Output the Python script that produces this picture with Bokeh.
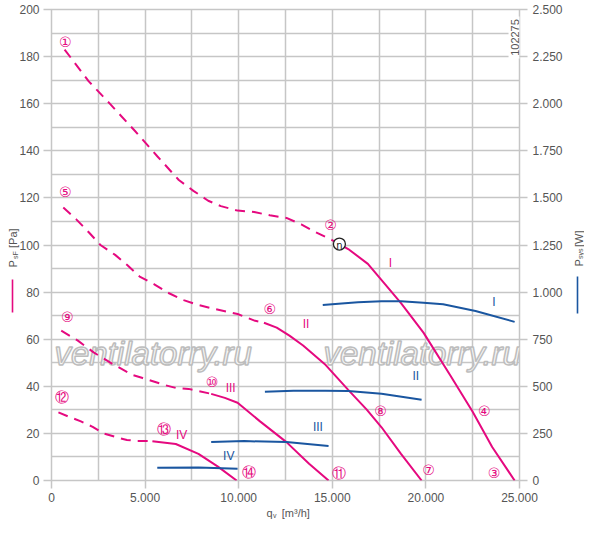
import math
from bokeh.plotting import figure
from bokeh.models import Range1d, LinearAxis, FixedTicker, Label
from bokeh.embed import file_html
from bokeh.resources import INLINE
from bokeh.core.properties import value

# ---------------- data ----------------
x_ticks = [0, 5000, 10000, 15000, 20000, 25000]
x_minor = [2500, 7500, 12500, 17500, 22500]
x_tick_labels = ["0", "5.000", "10.000", "15.000", "20.000", "25.000"]
y_ticks = [0, 20, 40, 60, 80, 100, 120, 140, 160, 180, 200]
y_minor = [10, 30, 50, 70, 90, 110, 130, 150, 170, 190]
w_ticks = [0, 250, 500, 750, 1000, 1250, 1500, 1750, 2000, 2250, 2500]
w_tick_labels = ["0", "250", "500", "750", "1.000", "1.250", "1.500",
                 "1.750", "2.000", "2.250", "2.500"]

# pressure curves (q in m3/h, p in Pa) - dashed part, then solid part
I_dash_q = [700, 1990, 3140, 4450, 5650, 6800, 7580, 8370, 9050, 9940,
            10830, 11660, 12550, 13340, 14120, 15010, 15380]
I_dash_p = [183, 169.5, 159.8, 148.5, 137.7, 127.6, 123, 118.8, 116.5, 114.6,
            114, 112.6, 111.5, 108.8, 105.4, 102, 100.4]
I_q = [15380, 15850, 16900, 17780, 18670, 19870, 21290, 22490, 23540, 24740]
I_p = [100.4, 98.3, 92, 83.7, 75.3, 62.8, 44.8, 29.3, 14.2, 0]

II_dash_q = [630, 1310, 1990, 2615, 3400, 4030, 4710, 5490, 6280, 7060,
             7850, 8740, 9940, 10880, 11350]
II_dash_p = [115.9, 111, 105.4, 100, 95.8, 91.6, 86.6, 83.3, 79.5, 76.6,
             74.5, 72.8, 70.7, 67.8, 67]
II_q = [11350, 12030, 12710, 13440, 14650, 15850, 16840, 17630, 18670, 19770]
II_p = [67, 64.9, 61.5, 57.3, 49, 38.5, 30.1, 22.6, 11.3, 0]

III_dash_q = [520, 1410, 2250, 3300, 4340, 4870, 6020, 6640, 7320, 7850, 8530]
III_dash_p = [63.6, 59.4, 54.4, 49.3, 44.8, 43.5, 40.6, 39.3, 38.9, 38.0, 36.8]
III_q = [8530, 9260, 9940, 11140, 12550, 13760, 14800]
III_p = [36.8, 35.1, 33, 25.1, 16.3, 7.1, 0]

IV_dash_q = [370, 890, 1570, 2200, 2770, 3500, 4030, 4550, 5390]
IV_dash_p = [28.9, 27.2, 25.1, 22.8, 20.0, 18.3, 17.2, 16.8, 16.7]
IV_q = [5390, 6640, 7850, 8890, 9890]
IV_p = [16.7, 15.5, 11.3, 5.9, 0]

# power curves (W)
PI_q = [14490, 15500, 16370, 17630, 18670, 19870, 20920, 22650, 24740]
PI_w = [931, 940, 946, 951, 951, 943, 935, 900, 842]
PII_q = [11400, 12920, 14650, 15850, 17630, 19770]
PII_w = [471, 476, 477, 475, 460, 429]
PIII_q = [8530, 10300, 12550, 14800]
PIII_w = [204, 209, 204, 183]
PIV_q = [5650, 7850, 9940]
PIV_w = [68, 69, 63]

# point labels
pt_text = ["①", "②", "③", "④", "⑤", "⑥", "⑦", "⑧", "⑨", "⑩", "⑪", "⑫", "⑬", "⑭"]
pt_q = [730, 14900, 23640, 23120, 730, 11660, 20140, 17570, 840, 8580, 15380, 575, 6020, 10560]
pt_p = [186.2, 108.4, 3.3, 29.7, 122.6, 72.8, 4.6, 29.3, 69.5, 41.8, 3.3, 35.6, 21.8, 3.8]

curve_text = ["I", "II", "III", "IV"]
curve_q = [18100, 13600, 9570, 6950]
curve_p = [92.5, 66.5, 39.3, 19.2]
pow_text = ["I", "II", "III", "IV"]
pow_q = [23640, 19460, 14230, 9470]
pow_w = [946, 555, 283, 131]

n_q = [15380]
n_p = [100.4]

drawing_no = ["102275"]

# ---------------- style ----------------
MAG = "#e5097f"
BLUE = "#1a56a0"
GRID = "#c6c6c6"
TXT = "#555555"
FONT = "Liberation Sans"
NB = "\u00a0"

W, H = 584, 519
ML, MR, MT, MB = 50, 63, 9, 39
FW, FH = W - ML - MR, H - MT - MB
SX0, SY0 = ML, MT + FH   # canvas coords of frame bottom-left

p = figure(width=W, height=H, output_backend="svg", toolbar_location=None,
           x_range=Range1d(0, 25000), y_range=Range1d(0, 200),
           min_border_left=ML, min_border_right=MR, min_border_top=MT,
           min_border_bottom=MB)
p.extra_y_ranges = {"W": Range1d(0, 2500)}
p.outline_line_color = GRID
p.outline_line_width = 1.5

xt = FixedTicker(ticks=x_ticks, minor_ticks=x_minor)
yt = FixedTicker(ticks=y_ticks, minor_ticks=y_minor)
p.xaxis.ticker = xt
p.yaxis.ticker = yt
p.xgrid.ticker = xt
p.ygrid.ticker = yt
for g in (p.xgrid, p.ygrid):
    g.grid_line_color = GRID
    g.grid_line_width = 1.5
    g.minor_grid_line_color = GRID
    g.minor_grid_line_width = 1.5

p.xaxis.major_label_overrides = {t: l for t, l in zip(x_ticks, x_tick_labels)}

wax = LinearAxis(y_range_name="W", ticker=FixedTicker(ticks=w_ticks),
                 major_label_overrides={t: l for t, l in zip(w_ticks, w_tick_labels)})
p.add_layout(wax, "right")

for ax in [p.xaxis[0], p.yaxis[0], wax]:
    ax.axis_line_color = None
    ax.major_tick_in = 0
    ax.major_tick_out = 8
    ax.major_tick_line_color = GRID
    ax.major_tick_line_width = 1.5
    ax.minor_tick_line_color = None
    ax.major_label_text_font = FONT
    ax.major_label_text_font_size = "12px"
    ax.major_label_text_color = TXT
p.yaxis[0].major_label_standoff = 4
wax.major_label_standoff = 5
p.xaxis[0].major_label_standoff = 4


def X(sx):
    return (sx - SX0) / FW * 25000


def Y(sy):
    return (SY0 - sy) / FH * 200


def lab(text, sx, sy, size="11px", color=TXT, angle=0.0, align="left",
        baseline="alphabetic", **kw):
    return Label(x=0, y=0, x_offset=sx - SX0, y_offset=SY0 - sy, text=text,
                 text_font=FONT, text_font_size=size, text_color=color,
                 angle=angle, text_align=align, text_baseline=baseline, **kw)


# watermark
for wx in (53, 322):
    p.add_layout(lab("ventilatorry.ru", wx, 353, size="33px",
                     color="#f6f6f6", text_font_style="italic",
                     text_outline_color="#bdbdbd", level="underlay"))

R = math.pi / 2
# drawing number in the top right corner, on a white patch over the grid
p.rect(x=[X(516)], y=[Y(37)], width=12, height=42, width_units="screen",
       height_units="screen", fill_color="white", line_color=None)
p.text(x=[X(516)], y=[Y(37)], text=drawing_no, angle=R,
       text_font=value(FONT), text_font_size="11px", text_color=TXT,
       text_align="center", text_baseline="middle")

# curves
dash = "10 7"
for qd, pd, qs, ps in [(I_dash_q, I_dash_p, I_q, I_p),
                       (II_dash_q, II_dash_p, II_q, II_p),
                       (III_dash_q, III_dash_p, III_q, III_p),
                       (IV_dash_q, IV_dash_p, IV_q, IV_p)]:
    p.line(qd, pd, line_color=MAG, line_width=2, line_dash=dash)
    p.line(qs, ps, line_color=MAG, line_width=2)

for qq, ww in [(PI_q, PI_w), (PII_q, PII_w), (PIII_q, PIII_w), (PIV_q, PIV_w)]:
    p.line(qq, ww, line_color=BLUE, line_width=2, y_range_name="W")

p.text(x=pt_q, y=pt_p, text=pt_text, text_font=value("DejaVu Sans"),
       text_font_size="14px", text_color=MAG, text_align="center",
       text_baseline="middle")
p.text(x=curve_q, y=curve_p, text=curve_text, text_font=value(FONT),
       text_font_size="12px", text_color=MAG, text_align="center",
       text_baseline="middle")
p.text(x=pow_q, y=pow_w, text=pow_text, text_font=value(FONT),
       text_font_size="12px", text_color=BLUE, text_align="center",
       text_baseline="middle", y_range_name="W")

p.scatter(n_q, n_p, size=12, marker="circle", fill_color="white",
          line_color="#222222", line_width=1.3)
p.text(x=n_q, y=n_p, text=["n"], text_font=value("DejaVu Sans"),
       text_font_size="10px", text_color="#222222", text_align="center",
       text_baseline="middle", y_offset=1)


# short legend strokes under the axis titles: bare axis lines (no ticks)
def stroke(side, sy0, sy1, color):
    a = LinearAxis(ticker=FixedTicker(ticks=[]), bounds=(Y(sy1), Y(sy0)),
                   axis_line_color=color, axis_line_width=1.6,
                   major_tick_out=0, major_tick_in=0, minor_tick_out=0,
                   minor_tick_in=0, major_label_standoff=0)
    p.add_layout(a, side)


# axis titles: placed in side panels so that they are not clipped to the frame
# (order inside each side panel matters: it sets where the bare strokes sit)
p.add_layout(lab("v", 271.6, 514.5, size="7px"), "left")
stroke("left", 279, 312, MAG)
p.add_layout(lab("P" + NB * 4 + "[Pa]", 11, 267, angle=R), "left")
p.add_layout(lab("sF", 13.5, 258.5, size="7px", angle=R), "above")
p.add_layout(lab("P" + NB * 4 + "[W]", 577, 266, angle=R), "right")
stroke("right", 276, 313, BLUE)
p.add_layout(lab("sys", 579.3, 258.5, size="7px", angle=R), "right")
p.add_layout(lab("q" + NB * 3 + "[m³/h]", 265, 512), "below")

open("out.html", "w").write(file_html(p, INLINE))
